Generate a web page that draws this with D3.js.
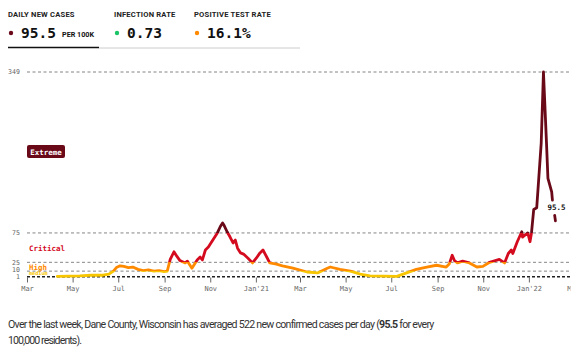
<!DOCTYPE html>
<html><head><meta charset="utf-8">
<script src="https://cdn.jsdelivr.net/npm/d3@7"></script>
<style>
body{margin:0;background:#fff;}
svg{display:block;}
</style></head>
<body>
<svg id="c" width="575" height="352"></svg>
<script>
// ---- data ----
const dates = ["2020-04-10","2020-04-25","2020-05-10","2020-05-25","2020-06-10","2020-06-18","2020-06-24","2020-06-28","2020-07-03","2020-07-08","2020-07-14","2020-07-20","2020-07-27","2020-08-03","2020-08-10","2020-08-17","2020-08-24","2020-08-31","2020-09-04","2020-09-08","2020-09-13","2020-09-17","2020-09-21","2020-09-28","2020-10-01","2020-10-07","2020-10-14","2020-10-18","2020-10-21","2020-10-25","2020-10-29","2020-11-04","2020-11-10","2020-11-14","2020-11-17","2020-11-19","2020-11-23","2020-11-27","2020-12-01","2020-12-04","2020-12-07","2020-12-11","2020-12-15","2020-12-21","2020-12-27","2021-01-01","2021-01-06","2021-01-10","2021-01-15","2021-01-19","2021-01-28","2021-02-05","2021-02-19","2021-03-10","2021-03-24","2021-04-06","2021-04-10","2021-04-23","2021-05-07","2021-05-20","2021-06-02","2021-06-20","2021-07-08","2021-07-21","2021-08-03","2021-08-17","2021-08-30","2021-09-12","2021-09-16","2021-09-20","2021-09-23","2021-09-27","2021-10-04","2021-10-13","2021-10-23","2021-10-31","2021-11-09","2021-11-22","2021-11-29","2021-12-04","2021-12-08","2021-12-10","2021-12-16","2021-12-22","2021-12-23","2021-12-30","2022-01-02","2022-01-04","2022-01-07","2022-01-11","2022-01-17","2022-01-20","2022-01-24","2022-01-26","2022-01-31","2022-02-01","2022-02-02","2022-02-04","2022-02-05"];
const casesPer100k = [1,1.5,2,3,3,5,10,16,19,18,16,17,13,11,12,10,11,9,10,30,43,35,28,24,27,15,29,34,29,46,51,63,75,86,92,88,77,68,58,63,49,41,39,32,24,32,41,46,34,24,22,19,15,8.5,7,15,17,13,10,5,2,1.5,1,7,13,17,20,17,22,37,28,24,27,24,17,18,25,30,24,40,46,40,60,77,68,75,60,75,115,118,228,349,230,168,145,131,null,105,95.5];
const yTicks = [1,10,25,75,349];
const gridValues = [10,25,75,349];
const levelBreaks = [10,25,75];
const levelColors = ["#f7c600","#ff8a00","#d40a1e","#6a0a19"];
const tabs = [
  {title:"DAILY NEW CASES", value:"95.5", unit:"PER 100K", dot:"#6a0a19"},
  {title:"INFECTION RATE", value:"0.73", unit:"", dot:"#1bc466"},
  {title:"POSITIVE TEST RATE", value:"16.1%", unit:"", dot:"#ff8a00"}
];
const latestValue = "95.5";

const svg = d3.select("#c");
const mono = "'DejaVu Sans Mono', 'Liberation Mono', monospace";
const sans = "Roboto, 'Noto Sans', sans-serif";

// ---- header ----
const tabX = [8, 114, 194];
tabs.forEach((t,i)=>{
  const g = svg.append("g").attr("transform",`translate(${tabX[i]},0)`);
  g.append("text").attr("x",0).attr("y",17).text(t.title)
    .attr("font-family",sans).attr("font-weight",700).attr("font-size",7.6).attr("fill","#222").attr("letter-spacing",0.2);
  g.append("circle").attr("cx",3).attr("cy",33).attr("r",2.2).attr("fill",t.dot);
  g.append("text").attr("x",13).attr("y",37.5).text(t.value)
    .attr("font-family",mono).attr("font-weight",700).attr("font-size",14.5).attr("fill","#111");
  if(t.unit){
    g.append("text").attr("x",54).attr("y",37).text(t.unit)
      .attr("font-family",sans).attr("font-weight",700).attr("font-size",7.2).attr("fill","#111");
  }
});
svg.append("line").attr("x1",99).attr("x2",300).attr("y1",48).attr("y2",48).attr("stroke","#ccc").attr("stroke-width",1);
svg.append("line").attr("x1",8).attr("x2",99).attr("y1",47.5).attr("y2",47.5).attr("stroke","#111").attr("stroke-width",1.6);

// ---- scales ----
const x = d3.scaleTime().domain([new Date(2020,2,1), new Date(2022,2,1)]).range([27,573]);
const y = d3.scaleLinear().domain([0,349]).range([277,72]);

// gridlines
svg.append("g").selectAll("line").data(gridValues).join("line")
  .attr("x1",27).attr("x2",570).attr("y1",d=>y(d)).attr("y2",d=>y(d))
  .attr("stroke","#777").attr("stroke-width",0.9).attr("stroke-dasharray","3,2.5");

// y tick labels
const yNudge = {1:2.2, 10:1.0, 25:2.3, 75:2.3, 349:2.3};
svg.append("g").selectAll("text").data(yTicks).join("text")
  .attr("x",20).attr("y",d=>y(d)+yNudge[d]).attr("text-anchor","end").text(d=>d)
  .attr("font-family",mono).attr("font-size",6.6).attr("fill","#666");

// level labels
svg.append("rect").attr("x",27).attr("y",145).attr("width",38).attr("height",13).attr("rx",2).attr("fill",levelColors[3]);
svg.append("text").attr("x",46).attr("y",154.5).attr("text-anchor","middle").text("Extreme")
  .attr("font-family",mono).attr("font-weight",700).attr("font-size",7.5).attr("fill","#fff");
svg.append("text").attr("x",29).attr("y",250.5).text("Critical")
  .attr("font-family",mono).attr("font-weight",700).attr("font-size",7.5).attr("fill",levelColors[2]);
svg.append("text").attr("x",29).attr("y",269.5).text("High")
  .attr("font-family",mono).attr("font-weight",700).attr("font-size",7.5).attr("fill",levelColors[1]);
svg.append("text").attr("x",29).attr("y",275.3).text("medium")
  .attr("font-family",mono).attr("font-weight",700).attr("font-size",5.2).attr("fill",levelColors[0]);

// x axis (clipped at the right edge like the reference)
svg.append("defs").append("clipPath").attr("id","axclip").append("rect")
  .attr("x",0).attr("y",0).attr("width",570.5).attr("height",352);
const xAxis = d3.axisBottom(x).ticks(d3.timeMonth.every(2)).tickSize(5).tickPadding(4)
  .tickFormat(d=> d.getMonth()===0 ? "Jan'"+d3.timeFormat("%y")(d) : d3.timeFormat("%b")(d));
const ax = svg.append("g").attr("clip-path","url(#axclip)").append("g")
  .attr("transform",`translate(0,${y(0)+0.5})`).call(xAxis);
ax.select(".domain").remove();
ax.selectAll(".tick line").attr("stroke","#666");
ax.selectAll(".tick text").attr("font-family",mono).attr("font-size",7).attr("fill","#666");
svg.append("line").attr("x1",27).attr("x2",570).attr("y1",y(0.5)).attr("y2",y(0.5))
  .attr("stroke","#222").attr("stroke-width",1.4).attr("stroke-dasharray","3,2");

// ---- line with level gradient ----
const data = dates.map((d,i)=>({date:new Date(d+"T12:00:00"), v:casesPer100k[i]}));
const grad = svg.select("defs").append("linearGradient").attr("id","lvl")
  .attr("gradientUnits","userSpaceOnUse").attr("x1",0).attr("x2",0).attr("y1",y(0)).attr("y2",y(349));
const stops = [];
let prev = 0;
levelBreaks.forEach((b,i)=>{
  stops.push([prev/349, levelColors[i]]); stops.push([b/349, levelColors[i]]);
  prev = b;
});
stops.push([prev/349, levelColors[3]]); stops.push([1, levelColors[3]]);
grad.selectAll("stop").data(stops).join("stop").attr("offset",d=>d[0]).attr("stop-color",d=>d[1]);

const line = d3.line().defined(d=>d.v!=null).x(d=>x(d.date)).y(d=>y(d.v)).curve(d3.curveLinear);
svg.append("path").datum(data).attr("d",line).attr("fill","none")
  .attr("stroke","url(#lvl)").attr("stroke-width",2.8).attr("stroke-linejoin","round").attr("stroke-linecap","round");

// end label
const last = data[data.length-1];
svg.append("text").attr("x",x(last.date)-8).attr("y",y(last.v)-11).text(latestValue)
  .attr("font-family",mono).attr("font-weight",700).attr("font-size",7.5).attr("fill","#111");

// ---- footer (fit to the reference's line width by adjusting letter spacing) ----
function fit(sel, target){
  const n = sel.text().length;
  const w = sel.node().getComputedTextLength();
  sel.attr("letter-spacing", ((target - w)/(n-1)).toFixed(3));
}
const ft = svg.append("text").attr("x",8).attr("y",328).attr("font-family",sans).attr("font-size",10.6).attr("fill","#333");
ft.append("tspan").text("Over the last week, Dane County, Wisconsin has averaged 522 new confirmed cases per day (");
ft.append("tspan").attr("font-weight",700).text("95.5");
ft.append("tspan").text(" for every");
fit(ft, 426);
const ft2 = svg.append("text").attr("x",8).attr("y",344).attr("font-family",sans).attr("font-size",10.6).attr("fill","#333")
  .text("100,000 residents).");
fit(ft2, 74);
</script>
</body></html>
